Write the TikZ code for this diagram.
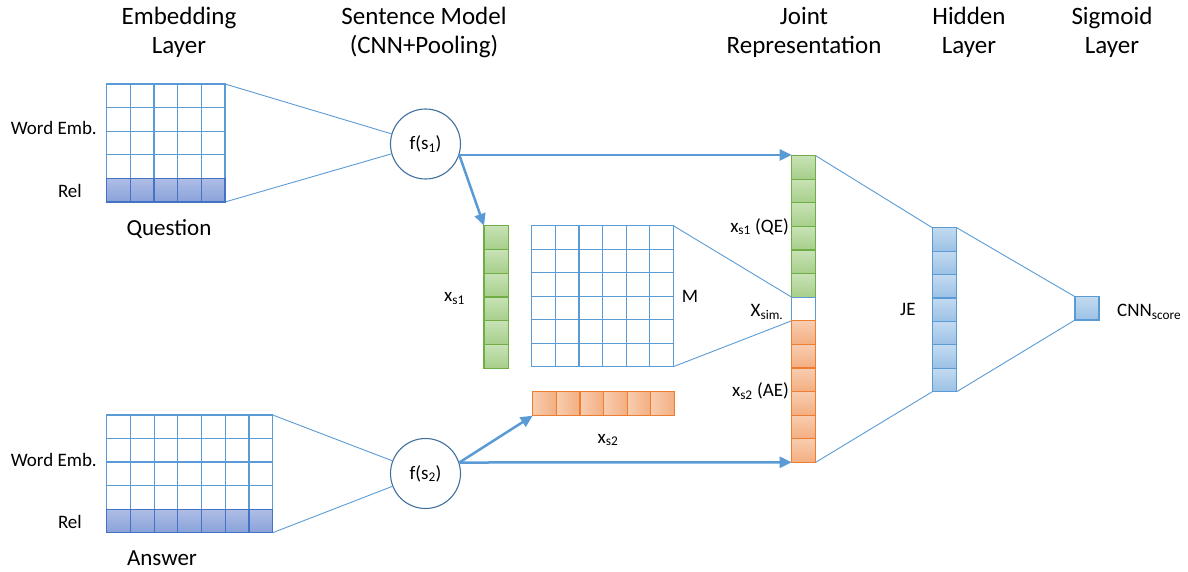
\documentclass[tikz,border=0pt]{standalone}
\usepackage{fontspec}
\setmainfont{Carlito}
\usetikzlibrary{arrows.meta,calc}
\definecolor{lineblue}{HTML}{5B9BD5}
\definecolor{circblue}{HTML}{41719C}
\definecolor{relborder}{HTML}{4472C4}
\definecolor{relA}{HTML}{AEBDE5}
\definecolor{relB}{HTML}{8AA2DA}
\definecolor{greenborder}{HTML}{70AD47}
\definecolor{greenA}{HTML}{C8E2B6}
\definecolor{greenB}{HTML}{A6CF8A}
\definecolor{orangeborder}{HTML}{ED7D31}
\definecolor{orangeA}{HTML}{F8CDB0}
\definecolor{orangeB}{HTML}{F3AE80}
\definecolor{hidA}{HTML}{C3DAF0}
\definecolor{hidB}{HTML}{9BC1E5}
\begin{document}
\begin{tikzpicture}[x=1pt,y=-1pt,
  conn/.style={draw=lineblue, line width=0.9pt},
  arr/.style={draw=lineblue, line width=2.5pt, -{Triangle[length=12pt,width=11pt]}},
  gridc/.style={draw=lineblue, line width=1.2pt, fill=white},
  relc/.style={draw=relborder, line width=1.2pt, top color=relA, bottom color=relB},
  greenc/.style={draw=greenborder, line width=1.2pt, top color=greenA, bottom color=greenB},
  orangec/.style={draw=orangeborder, line width=1.2pt, left color=orangeA, right color=orangeB},
  orangevc/.style={draw=orangeborder, line width=1.2pt, top color=orangeA, bottom color=orangeB},
  hidc/.style={draw=lineblue, line width=1.2pt, top color=hidA, bottom color=hidB},
  region/.style={inner sep=0pt, outer sep=0pt, anchor=north west},
  lbl/.style={font=\fontsize{19}{22}\selectfont, inner sep=0pt},
  ttl/.style={font=\fontsize{25}{29}\selectfont, inner sep=0pt, anchor=base},
  circ/.style={circle, draw=circblue, line width=1.1pt, minimum size=70pt, inner sep=0pt, fill=white, font=\fontsize{19}{22}\selectfont}
]
\useasboundingbox (0,0) rectangle (1188,572);

% ---------- titles ----------
\node[ttl] (t1a) at (179,25) {Embedding};
\node[ttl] (t1b) at (179,54) {Layer};
\node[ttl] (t2a) at (424,25) {Sentence Model};
\node[ttl] (t2b) at (424,54) {(CNN+Pooling)};
\node[ttl] (t3a) at (804,25) {Joint};
\node[ttl] (t3b) at (804,54) {Representation};
\node[ttl] (t4a) at (969,25) {Hidden};
\node[ttl] (t4b) at (969,54) {Layer};
\node[ttl] (t5a) at (1112,25) {Sigmoid};
\node[ttl] (t5b) at (1112,54) {Layer};

% ---------- region nodes ----------
\node[region, minimum width=118.3pt, minimum height=118pt] (qgrid) at (106.7,84) {};
\node[region, minimum width=166pt, minimum height=117.7pt] (agrid) at (106.7,415) {};
\node[region, minimum width=24.3pt, minimum height=142.6pt] (xs1) at (484,225.7) {};
\node[region, minimum width=141.6pt, minimum height=141pt] (M) at (531.7,225.7) {};
\node[region, minimum width=141.6pt, minimum height=24pt] (xs2) at (532.7,391.7) {};
\node[region, minimum width=24pt, minimum height=306.6pt] (jt) at (791.7,155.7) {};
\node[region, minimum width=24pt, minimum height=23.58pt] (xsim) at (791.7,297.2) {};
\node[region, minimum width=24.4pt, minimum height=164pt] (hid) at (932.3,227.7) {};
\node[region, minimum width=24pt, minimum height=23.3pt] (sig) at (1075,296.7) {};

% ---------- connectors (thin) ----------
\node[circ] (fs1) at (425.5,144) {f(s\textsubscript{1})};
\node[circ] (fs2) at (425.5,473.5) {f(s\textsubscript{2})};
\draw[conn] (qgrid.north east) -- (fs1);
\draw[conn] (qgrid.south east) -- (fs1);
\draw[conn] (agrid.north east) -- (fs2);
\draw[conn] (agrid.south east) -- (fs2);
\draw[conn] (M.north east) -- (xsim.north west);
\draw[conn] (M.south east) -- (xsim.south west);
\draw[conn] (jt.north east) -- (hid.north west);
\draw[conn] (jt.south east) -- (hid.south west);
\draw[conn] (hid.north east) -- (sig.north west);
\draw[conn] (hid.south east) -- (sig.south west);

% ---------- cells ----------
% question grid
\foreach \i in {0,...,4}{
  \foreach \j in {0,...,3}{
    \draw[gridc] (106.7+\i*23.66,84+\j*23.6) rectangle ++(23.66,23.6);
  }
  \draw[relc] (106.7+\i*23.66,84+4*23.6) rectangle ++(23.66,23.6);
}
% answer grid
\foreach \i in {0,...,6}{
  \foreach \j in {0,...,3}{
    \draw[gridc] (106.7+\i*23.714,415+\j*23.54) rectangle ++(23.714,23.54);
  }
  \draw[relc] (106.7+\i*23.714,415+4*23.54) rectangle ++(23.714,23.54);
}
% x_s1 column
\foreach \j in {0,...,5}
  \draw[greenc] (484,225.7+\j*23.77) rectangle ++(24.3,23.77);
% M matrix
\foreach \i in {0,...,5}
  \foreach \j in {0,...,5}
    \draw[gridc] (531.7+\i*23.6,225.7+\j*23.5) rectangle ++(23.6,23.5);
% x_s2 row
\foreach \i in {0,...,5}
  \draw[orangec] (532.7+\i*23.6,391.7) rectangle ++(23.6,24);
% joint representation
\foreach \j in {0,...,5}
  \draw[greenc] (791.7,155.7+\j*23.585) rectangle ++(24,23.585);
\draw[gridc] (xsim.north west) rectangle (xsim.south east);
\foreach \j in {7,...,12}
  \draw[orangevc] (791.7,155.7+\j*23.585) rectangle ++(24,23.585);
% hidden layer
\foreach \j in {0,...,6}
  \draw[hidc] (932.3,227.7+\j*23.43) rectangle ++(24.4,23.43);
% sigmoid
\draw[hidc] (sig.north west) rectangle (sig.south east);

% ---------- arrows ----------
\draw[arr] (fs1.-18) -- (fs1.-18 -| jt.west);
\draw[arr] (fs1.-18) -- (xs1.north west);
\draw[arr] (fs2.18) -- (xs2.south west);
\draw[arr] (fs2.18) -- (jt.south west);

% ---------- labels ----------
\node[lbl, anchor=base east] (we1) at (97,135) {Word Emb.};
\node[lbl, anchor=base east] (rel1) at (82,198) {Rel};
\node[lbl, anchor=base, font=\fontsize{23}{26}\selectfont] (qlab) at (169,235) {Question};
\node[lbl, anchor=base east] (we2) at (97,466.7) {Word Emb.};
\node[lbl, anchor=base east] (rel2) at (82,528) {Rel};
\node[lbl, anchor=base, font=\fontsize{23}{26}\selectfont] (alab) at (162,565) {Answer};
\node[lbl, anchor=base east] (xs1lab) at (465,301.7) {x\textsubscript{s1}};
\node[lbl, anchor=base west] (Mlab) at (681.7,302.7) {M};
\node[lbl, anchor=base] (xs2lab) at (608,443) {x\textsubscript{s2}};
\node[lbl, anchor=base east] (qelab) at (789,232) {x\textsubscript{s1} (QE)};
\node[lbl, anchor=base] (simlab) at (767,316.7) {X\textsubscript{sim.}};
\node[lbl, anchor=base east] (aelab) at (789,396.7) {x\textsubscript{s2} (AE)};
\node[lbl, anchor=base west] (jelab) at (900,315) {JE};
\node[lbl, anchor=base west] (cnnlab) at (1117,316.7) {CNN\textsubscript{score}};
\end{tikzpicture}
\end{document}
